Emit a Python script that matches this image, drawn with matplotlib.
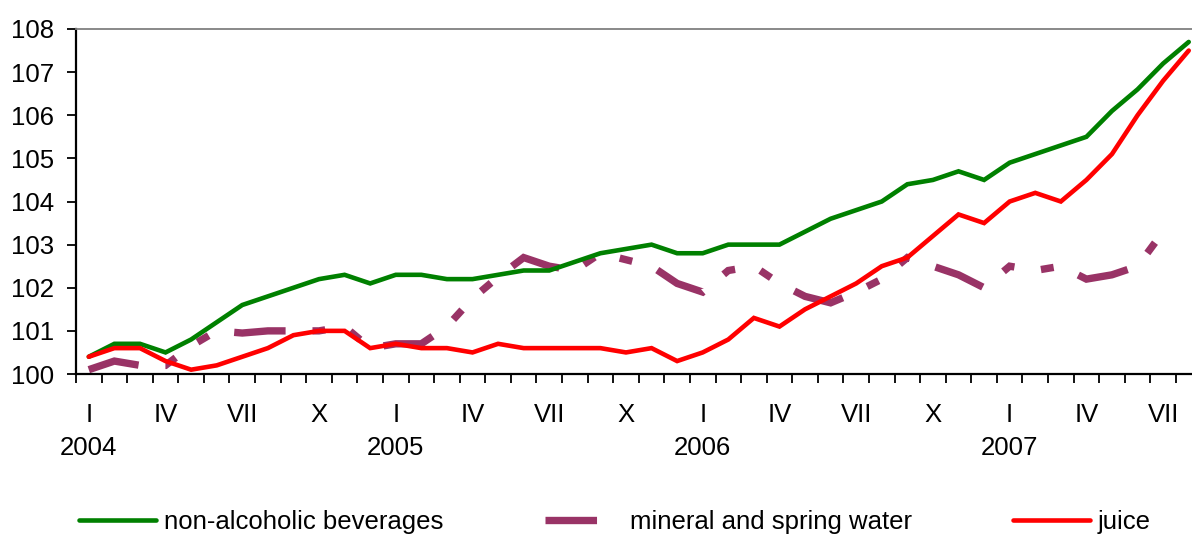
import numpy as np
import matplotlib
matplotlib.use("Agg")
import matplotlib.pyplot as plt

plt.rcParams['font.family'] = ['Liberation Sans', 'DejaVu Sans']

months = ["I", "II", "III", "IV", "V", "VI", "VII", "VIII", "IX", "X", "XI", "XII"]
years = ["2004", "2005", "2006", "2007"]
tick_months = ["I", "IV", "VII", "X"]

non_alcoholic = [100.4, 100.7, 100.7, 100.5, 100.8, 101.2, 101.6, 101.8, 102.0, 102.2, 102.3, 102.1,
                 102.3, 102.3, 102.2, 102.2, 102.3, 102.4, 102.4, 102.6, 102.8, 102.9, 103.0, 102.8,
                 102.8, 103.0, 103.0, 103.0, 103.3, 103.6, 103.8, 104.0, 104.4, 104.5, 104.7, 104.5,
                 104.9, 105.1, 105.3, 105.5, 106.1, 106.6, 107.2, 107.7]
mineral_water = [100.1, 100.3, 100.2, 100.2, 100.65, 101.0, 100.95, 101.0, 101.0, 101.0, 101.1, 100.6,
                 100.7, 100.7, 101.1, 101.75, 102.25, 102.7, 102.5, 102.4, 102.8, 102.65, 102.5, 102.1,
                 101.9, 102.4, 102.5, 102.1, 101.8, 101.65, 101.9, 102.2, 102.7, 102.5, 102.3, 102.0,
                 102.5, 102.4, 102.5, 102.2, 102.3, 102.5, 103.3, np.nan]
juice = [100.4, 100.6, 100.6, 100.3, 100.1, 100.2, 100.4, 100.6, 100.9, 101.0, 101.0, 100.6,
         100.7, 100.6, 100.6, 100.5, 100.7, 100.6, 100.6, 100.6, 100.6, 100.5, 100.6, 100.3,
         100.5, 100.8, 101.3, 101.1, 101.5, 101.8, 102.1, 102.5, 102.7, 103.2, 103.7, 103.5,
         104.0, 104.2, 104.0, 104.5, 105.1, 106.0, 106.8, 107.5]

n = len(non_alcoholic)
x = np.arange(n)

W, H = 1192, 536
fig = plt.figure(figsize=(W / 100, H / 100), dpi=100)
ax_left, ax_right, ax_top, ax_bottom = 76, 76 + 44 * 25.58, 29, 374
ax = fig.add_axes([ax_left / W, (H - ax_bottom) / H, (ax_right - ax_left) / W, (ax_bottom - ax_top) / H])

FS = 18.5
ax.plot(x, non_alcoholic, color="#008000", lw=3.3, label="non-alcoholic beverages",
        solid_capstyle="round", solid_joinstyle="miter", zorder=3)
ax.plot(x, mineral_water, color="#993366", lw=5.3, label="mineral and spring water",
        linestyle=(0, (7.0, 3.65, 1.75, 3.65, 1.75, 3.65)), dash_capstyle="butt",
        dash_joinstyle="miter", zorder=2)
ax.plot(x, juice, color="#FF0000", lw=3.3, label="juice",
        solid_capstyle="round", solid_joinstyle="miter", zorder=4)

ax.set_xlim(-0.5, 44 - 0.5)
ax.set_ylim(100, 108)
ax.set_yticks(range(100, 109))
ax.set_yticklabels([str(v) for v in range(100, 109)], fontsize=FS)
ax.set_xticks(np.arange(-0.5, 44, 1.0))
ax.set_xticklabels([])
ax.tick_params(axis="both", direction="out", length=6.5, width=1.3, color="black")
ax.tick_params(axis="y", pad=9)

ax.spines["right"].set_visible(False)
ax.spines["top"].set_color("#808080")
ax.spines["top"].set_linewidth(1.3)
ax.spines["left"].set_linewidth(1.6)
ax.spines["bottom"].set_linewidth(1.6)

tr = ax.get_xaxis_transform()
h = ax_bottom - ax_top
for i in range(n):
    m = months[i % 12]
    if m in tick_months:
        ax.text(i, -(422 - ax_bottom) / h, m, transform=tr, ha="center", va="baseline", fontsize=FS)
    if m == "I":
        ax.text(i, -(455 - ax_bottom) / h, years[i // 12], transform=tr, ha="center",
                va="baseline", fontsize=FS)

fig.legend(loc="center", bbox_to_anchor=(615 / W, 1 - 522 / H), ncol=3, frameon=False,
           handlelength=3.0, handletextpad=0.3, columnspacing=3.95, borderpad=0,
           borderaxespad=0, fontsize=FS)

fig.savefig("out.png", dpi=100)
